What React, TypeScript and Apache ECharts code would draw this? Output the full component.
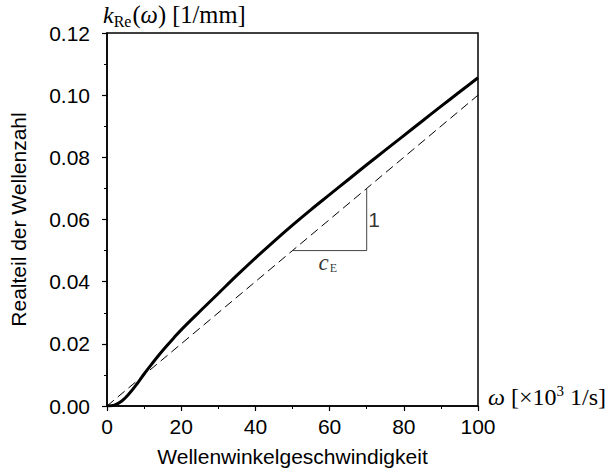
import React, { useEffect, useRef } from 'react';
import * as echarts from 'echarts';

const omega = [0, 2, 4, 6, 8, 10, 12, 14, 16, 18, 20, 25, 30, 35, 40, 45, 50, 55, 60, 65, 70, 75, 80, 85, 90, 95, 100];
const kRe = [0, 0.0003, 0.0016, 0.004, 0.007, 0.0103, 0.0134, 0.0164, 0.0192, 0.0219, 0.0245, 0.0304, 0.0362, 0.042, 0.0476, 0.053, 0.0582, 0.0632, 0.068, 0.0728, 0.0776, 0.0823, 0.087, 0.0917, 0.0964, 0.101, 0.1056];
const asymptoteX = [0, 100];
const asymptoteY = [0, 0.1];
const triangleX = [50, 70, 70];
const triangleY = [0.05, 0.05, 0.07];
const xTicks = [0, 20, 40, 60, 80, 100];
const yTicks = [0, 0.02, 0.04, 0.06, 0.08, 0.1, 0.12];

const SANS = '"Liberation Sans", Arial, Helvetica, sans-serif';
const SERIF = '"Liberation Serif", "Times New Roman", serif';

export default function App() {
  const ref = useRef<HTMLDivElement>(null);
  useEffect(() => {
    if (!ref.current) return;
    const chart = echarts.init(ref.current, null, { renderer: 'svg' });
    const curve = omega.map((w, i) => [w, kRe[i]]);
    const asym = asymptoteX.map((w, i) => [w, asymptoteY[i]]);
    const tri = triangleX.map((w, i) => [w, triangleY[i]]);
    chart.setOption({
      animation: false,
      backgroundColor: '#fff',
      grid: {
        left: 105, right: 135, top: 33, bottom: 69,
        show: true, borderColor: '#000', borderWidth: 1.5, backgroundColor: 'transparent',
      },
      xAxis: {
        type: 'value', min: xTicks[0], max: xTicks[xTicks.length - 1], interval: 20,
        name: 'Wellenwinkelgeschwindigkeit', nameLocation: 'middle', nameGap: 40,
        nameTextStyle: { fontFamily: SANS, fontSize: 21, color: '#000' },
        axisLine: { show: true, lineStyle: { color: '#000', width: 1.5 } },
        axisTick: { show: true, length: 5, lineStyle: { color: '#000', width: 1.2 } },
        minorTick: { show: true, splitNumber: 2, length: 3, lineStyle: { color: '#000', width: 1 } },
        axisLabel: { fontFamily: SANS, fontSize: 21, color: '#000', margin: 10 },
        splitLine: { show: false },
      },
      yAxis: {
        type: 'value', min: yTicks[0], max: yTicks[yTicks.length - 1], interval: 0.02,
        name: 'Realteil der Wellenzahl', nameLocation: 'middle', nameGap: 78,
        nameTextStyle: { fontFamily: SANS, fontSize: 21, color: '#000' },
        axisLine: { show: true, lineStyle: { color: '#000', width: 1.5 } },
        axisTick: { show: true, length: 5, lineStyle: { color: '#000', width: 1.2 } },
        minorTick: { show: true, splitNumber: 2, length: 3, lineStyle: { color: '#000', width: 1 } },
        axisLabel: { fontFamily: SANS, fontSize: 21, color: '#000', margin: 17, formatter: (v: number) => v.toFixed(2) },
        splitLine: { show: false },
      },
      series: [
        {
          type: 'line', data: asym, symbol: 'none', silent: true,
          lineStyle: { color: '#000', width: 1, type: [9, 5] },
        },
        {
          type: 'line', data: tri, symbol: 'none', silent: true,
          lineStyle: { color: '#444', width: 1 },
        },
        {
          type: 'line', data: curve, symbol: 'none', smooth: 0.35, silent: true,
          lineStyle: { color: '#000', width: 3 },
        },
        {
          type: 'scatter', symbolSize: 1, silent: true,
          itemStyle: { color: 'rgba(0,0,0,0)' },
          data: [
            { value: [70, 0.06], label: { show: true, position: 'right', distance: 1, formatter: '1', fontFamily: SANS, fontSize: 21, color: '#000' } },
            {
              value: [59.5, 0.05],
              label: {
                show: true, position: 'bottom', distance: 0,
                formatter: '{c|c}{e|E}',
                rich: {
                  c: { fontFamily: SERIF, fontStyle: 'italic', fontSize: 23, color: '#000' },
                  e: { fontFamily: SERIF, fontSize: 12, color: '#000', padding: [10, 0, 0, 1] },
                },
              },
            },
          ],
        },
      ],
      graphic: [
        {
          type: 'text', left: 103, top: 2,
          style: {
            text: '{k|k}{s|Re}{n|(}{w|ω}{n|) [1/mm]}',
            rich: {
              k: { fontFamily: SERIF, fontStyle: 'italic', fontSize: 24, fill: '#000' },
              s: { fontFamily: SERIF, fontSize: 16, fill: '#000', padding: [13, 1, 0, 0] },
              n: { fontFamily: SERIF, fontSize: 24.5, fill: '#000' },
              w: { fontFamily: SERIF, fontStyle: 'italic', fontSize: 24.5, fill: '#000' },
            },
          },
        },
        {
          type: 'text', left: 488, top: 383,
          style: {
            text: '{w|ω}{n| [×10}{p|3}{n| 1/s]}',
            rich: {
              w: { fontFamily: SERIF, fontStyle: 'italic', fontSize: 24, fill: '#000' },
              n: { fontFamily: SERIF, fontSize: 24, fill: '#000' },
              p: { fontFamily: SERIF, fontSize: 15, fill: '#000', padding: [0, 0, 12, 0] },
            },
          },
        },
      ],
    });
    return () => chart.dispose();
  }, []);
  return <div ref={ref} style={{ width: 613, height: 475, position: 'absolute', left: 0, top: 0 }} />;
}
